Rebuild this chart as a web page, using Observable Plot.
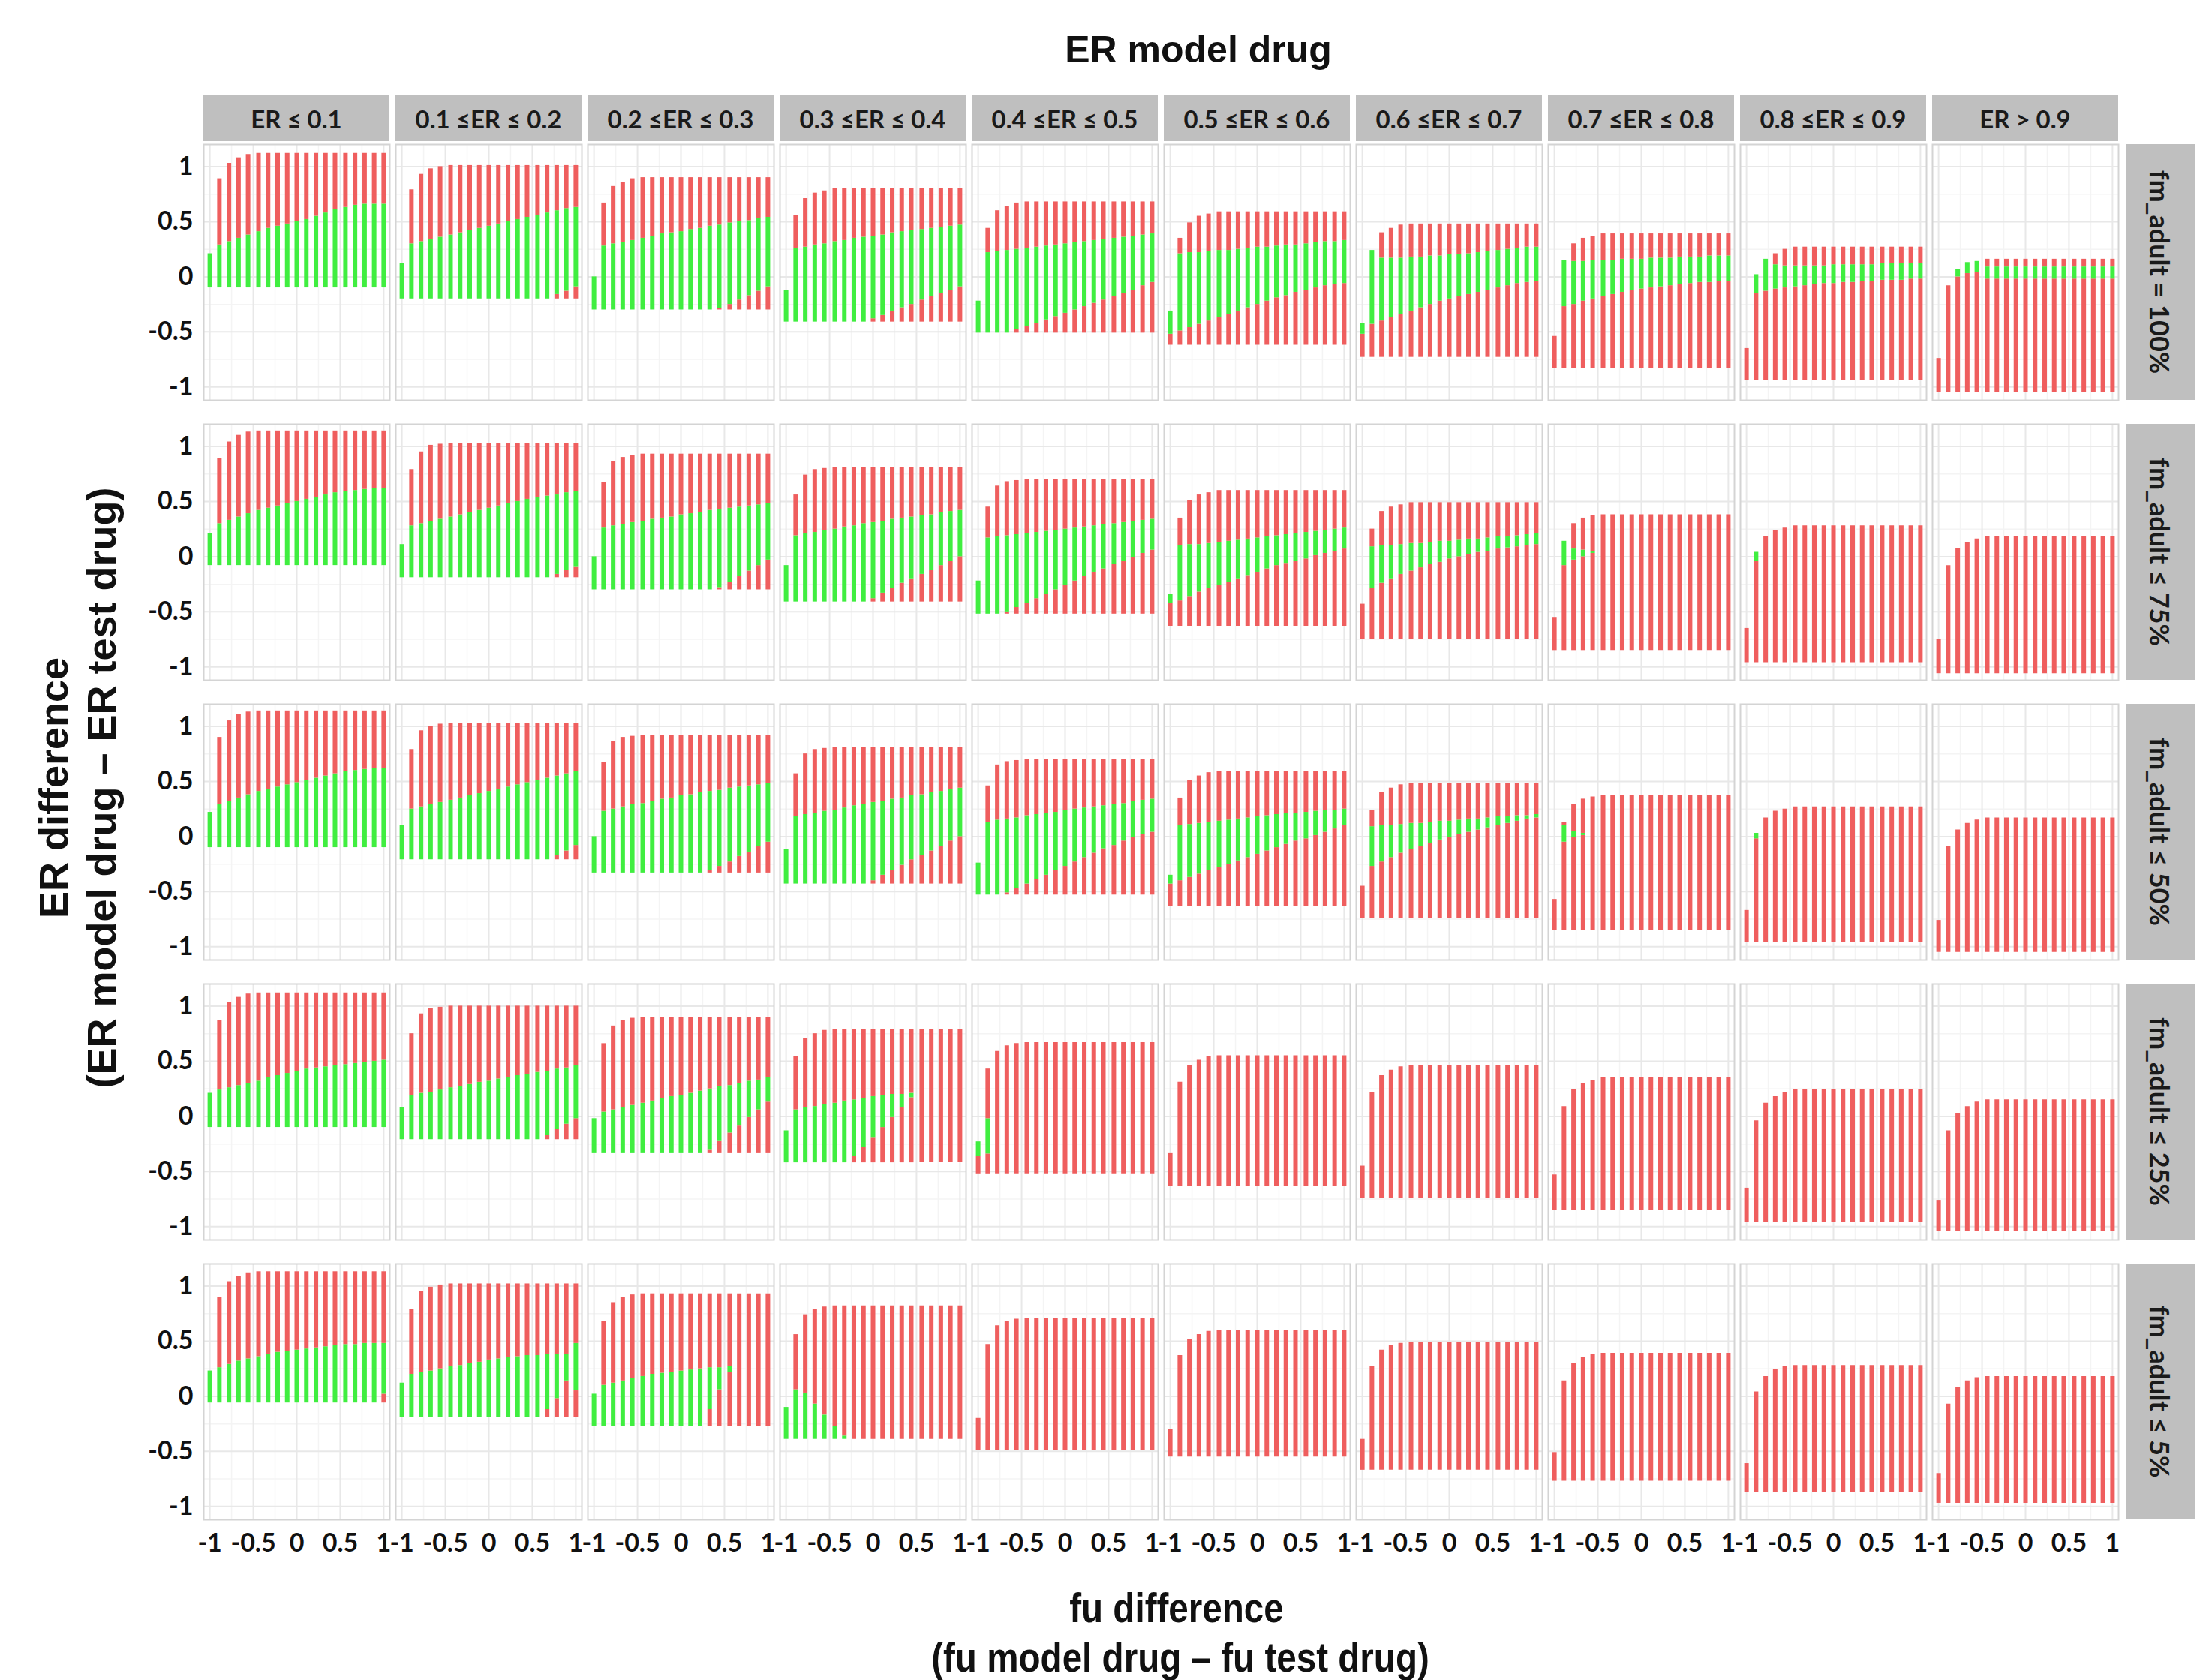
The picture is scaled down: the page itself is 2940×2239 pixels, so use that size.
<!DOCTYPE html>
<html><head><meta charset="utf-8">
<script src="https://cdn.jsdelivr.net/npm/d3@7"></script>
<script src="https://cdn.jsdelivr.net/npm/@observablehq/plot@0.6"></script>
<style>
html,body{margin:0;padding:0;background:#fff;}
#wrap{position:relative;width:2940px;height:2239px;overflow:hidden;background:#fff;}
.t{position:absolute;z-index:5;font-family:"Liberation Sans",Arial,sans-serif;font-weight:bold;color:#111;white-space:nowrap;line-height:1;}
#chart{position:absolute;left:0;top:100px;z-index:1;}
</style></head><body><div id="wrap">
<div id="chart"></div>
<div class="t" style="left:1597px;top:66px;font-size:50px;transform:translate(-50%,-50%)">ER model drug</div>
<div class="t" style="left:1568px;top:2143px;font-size:56px;transform:translate(-50%,-50%) scaleX(0.85)">fu difference</div>
<div class="t" style="left:1573px;top:2209px;font-size:56px;transform:translate(-50%,-50%) scaleX(0.85)">(fu model drug – fu test drug)</div>
<div class="t" style="left:71px;top:1050px;font-size:54px;transform:translate(-50%,-50%) rotate(-90deg)">ER difference</div>
<div class="t" style="left:135px;top:1050px;font-size:54px;transform:translate(-50%,-50%) rotate(-90deg)">(ER model drug – ER test drug)</div>
</div>
<script>
const erBins = ["ER ≤ 0.1","0.1 ≤ER ≤ 0.2","0.2 ≤ER ≤ 0.3","0.3 ≤ER ≤ 0.4","0.4 ≤ER ≤ 0.5","0.5 ≤ER ≤ 0.6","0.6 ≤ER ≤ 0.7","0.7 ≤ER ≤ 0.8","0.8 ≤ER ≤ 0.9","ER > 0.9"];
const fmBins = ["fm_adult = 100%","fm_adult ≤ 75%","fm_adult ≤ 50%","fm_adult ≤ 25%","fm_adult ≤ 5%"];
const fuDiff = [-1,-0.89,-0.78,-0.67,-0.56,-0.44,-0.33,-0.22,-0.11,0,0.11,0.22,0.33,0.44,0.56,0.67,0.78,0.89,1];
const axisTicks = [-1,-0.5,0,0.5,1];
const minorTicks = [-0.75,-0.25,0.25,0.75];
const n = null;

// ---- fm_adult = 100% ----
const top100 = [
[0.21,0.89,1.03,1.08,1.11,1.12,1.12,1.12,1.12,1.12,1.12,1.12,1.12,1.12,1.12,1.12,1.12,1.12,1.12],
[0.12,0.79,0.93,0.98,1.00,1.01,1.01,1.01,1.01,1.01,1.01,1.01,1.01,1.01,1.01,1.01,1.01,1.01,1.01],
[0.00,0.67,0.82,0.86,0.89,0.90,0.90,0.90,0.90,0.90,0.90,0.90,0.90,0.90,0.90,0.90,0.90,0.90,0.90],
[-0.12,0.56,0.71,0.76,0.78,0.80,0.80,0.80,0.80,0.80,0.80,0.80,0.80,0.80,0.80,0.80,0.80,0.80,0.80],
[-0.22,0.44,0.60,0.64,0.67,0.68,0.68,0.68,0.68,0.68,0.68,0.68,0.68,0.68,0.68,0.68,0.68,0.68,0.68],
[-0.31,0.35,0.49,0.55,0.57,0.59,0.59,0.59,0.59,0.59,0.59,0.59,0.59,0.59,0.59,0.59,0.59,0.59,0.59],
[-0.42,0.24,0.40,0.44,0.47,0.48,0.48,0.48,0.48,0.48,0.48,0.48,0.48,0.48,0.48,0.48,0.48,0.48,0.48],
[-0.54,0.15,0.30,0.35,0.37,0.39,0.39,0.39,0.39,0.39,0.39,0.39,0.39,0.39,0.39,0.39,0.39,0.39,0.39],
[-0.65,0.02,0.16,0.21,0.25,0.27,0.27,0.27,0.27,0.27,0.27,0.27,0.27,0.27,0.27,0.27,0.27,0.27,0.27],
[-0.74,-0.08,0.07,0.13,0.14,0.16,0.16,0.16,0.16,0.16,0.16,0.16,0.16,0.16,0.16,0.16,0.16,0.16,0.16]];
const bot100 = [-0.10,-0.20,-0.30,-0.41,-0.51,-0.62,-0.73,-0.83,-0.94,-1.05];
const ghi100 = [
[0.21,0.29,0.32,0.35,0.38,0.41,0.44,0.46,0.48,0.50,0.52,0.55,0.58,0.61,0.63,0.65,0.66,0.66,0.66],
[0.12,0.30,0.32,0.34,0.36,0.38,0.40,0.42,0.44,0.46,0.48,0.50,0.52,0.54,0.56,0.58,0.60,0.62,0.63],
[0.00,0.28,0.30,0.31,0.33,0.35,0.37,0.39,0.40,0.41,0.43,0.44,0.46,0.47,0.49,0.50,0.51,0.53,0.54],
[-0.12,0.26,0.27,0.29,0.30,0.32,0.33,0.35,0.36,0.37,0.38,0.40,0.41,0.42,0.43,0.44,0.45,0.46,0.47],
[-0.22,0.22,0.23,0.24,0.25,0.26,0.27,0.28,0.29,0.30,0.31,0.32,0.33,0.34,0.35,0.36,0.37,0.38,0.39],
[-0.31,0.21,0.22,0.22,0.23,0.24,0.24,0.25,0.26,0.27,0.27,0.28,0.29,0.29,0.30,0.31,0.32,0.32,0.33],
[-0.42,0.24,0.17,0.17,0.17,0.18,0.18,0.19,0.19,0.20,0.20,0.21,0.22,0.23,0.24,0.25,0.26,0.27,0.27],
[n,0.15,0.14,0.14,0.15,0.15,0.15,0.16,0.16,0.16,0.17,0.17,0.17,0.18,0.18,0.18,0.19,0.19,0.19],
[n,0.02,0.16,0.11,0.10,0.10,0.10,0.10,0.10,0.11,0.11,0.11,0.11,0.11,0.12,0.12,0.12,0.12,0.12],
[n,n,0.07,0.13,0.14,0.09,0.09,0.09,0.09,0.09,0.09,0.09,0.09,0.09,0.09,0.09,0.09,0.09,0.09]];
const glo100 = [
null,
[n,n,n,n,n,n,n,n,n,n,n,n,n,n,n,n,-0.16,-0.13,-0.09],
[n,n,n,n,n,n,n,n,n,n,n,n,n,-0.29,-0.25,-0.21,-0.17,-0.13,-0.09],
[n,n,n,n,n,n,n,n,n,-0.38,-0.35,-0.31,-0.28,-0.25,-0.21,-0.18,-0.15,-0.12,-0.09],
[n,n,n,n,-0.48,-0.45,-0.42,-0.39,-0.36,-0.33,-0.30,-0.27,-0.24,-0.21,-0.18,-0.15,-0.12,-0.08,-0.05],
[-0.52,-0.49,-0.46,-0.43,-0.40,-0.37,-0.34,-0.31,-0.28,-0.25,-0.22,-0.19,-0.17,-0.14,-0.12,-0.10,-0.08,-0.07,-0.06],
[-0.52,-0.43,-0.40,-0.37,-0.34,-0.31,-0.28,-0.25,-0.22,-0.20,-0.18,-0.16,-0.14,-0.12,-0.10,-0.08,-0.06,-0.05,-0.04],
[n,-0.27,-0.25,-0.22,-0.20,-0.18,-0.16,-0.14,-0.12,-0.11,-0.10,-0.09,-0.08,-0.07,-0.06,-0.05,-0.05,-0.04,-0.04],
[n,-0.15,-0.13,-0.11,-0.10,-0.09,-0.08,-0.07,-0.06,-0.06,-0.05,-0.05,-0.04,-0.04,-0.03,-0.03,-0.03,-0.02,-0.02],
[n,n,0.00,0.03,0.04,-0.02,-0.02,-0.02,-0.02,-0.02,-0.02,-0.02,-0.02,-0.02,-0.02,-0.02,-0.02,-0.02,-0.02]];

// ---- fm_adult ≤ 75% ----
const top75 = [
[0.21,0.89,1.04,1.10,1.13,1.14,1.14,1.14,1.14,1.14,1.14,1.14,1.14,1.14,1.14,1.14,1.14,1.14,1.14],
[0.11,0.79,0.95,1.01,1.02,1.03,1.03,1.03,1.03,1.03,1.03,1.03,1.03,1.03,1.03,1.03,1.03,1.03,1.03],
[0.00,0.67,0.86,0.90,0.92,0.93,0.93,0.93,0.93,0.93,0.93,0.93,0.93,0.93,0.93,0.93,0.93,0.93,0.93],
[-0.08,0.56,0.74,0.79,0.80,0.81,0.81,0.81,0.81,0.81,0.81,0.81,0.81,0.81,0.81,0.81,0.81,0.81,0.81],
[-0.22,0.45,0.64,0.68,0.69,0.70,0.70,0.70,0.70,0.70,0.70,0.70,0.70,0.70,0.70,0.70,0.70,0.70,0.70],
[-0.34,0.35,0.51,0.56,0.58,0.60,0.60,0.60,0.60,0.60,0.60,0.60,0.60,0.60,0.60,0.60,0.60,0.60,0.60],
[-0.43,0.25,0.41,0.45,0.47,0.49,0.49,0.49,0.49,0.49,0.49,0.49,0.49,0.49,0.49,0.49,0.49,0.49,0.49],
[-0.55,0.14,0.30,0.35,0.37,0.38,0.38,0.38,0.38,0.38,0.38,0.38,0.38,0.38,0.38,0.38,0.38,0.38,0.38],
[-0.65,0.04,0.18,0.24,0.26,0.28,0.28,0.28,0.28,0.28,0.28,0.28,0.28,0.28,0.28,0.28,0.28,0.28,0.28],
[-0.75,-0.08,0.07,0.13,0.16,0.18,0.18,0.18,0.18,0.18,0.18,0.18,0.18,0.18,0.18,0.18,0.18,0.18,0.18]];
const bot75 = [-0.08,-0.19,-0.30,-0.41,-0.52,-0.63,-0.75,-0.85,-0.96,-1.06];
const ghi75 = [
[0.21,0.30,0.33,0.36,0.39,0.42,0.44,0.46,0.48,0.50,0.52,0.54,0.56,0.58,0.59,0.60,0.61,0.62,0.62],
[0.11,0.28,0.30,0.32,0.34,0.36,0.38,0.40,0.42,0.44,0.46,0.48,0.50,0.52,0.54,0.55,0.56,0.58,0.59],
[0.00,0.26,0.28,0.29,0.31,0.32,0.34,0.35,0.36,0.38,0.39,0.40,0.42,0.43,0.44,0.45,0.46,0.47,0.48],
[-0.08,0.19,0.21,0.22,0.24,0.25,0.27,0.28,0.30,0.31,0.32,0.34,0.35,0.36,0.37,0.38,0.40,0.41,0.42],
[-0.22,0.17,0.18,0.19,0.20,0.21,0.22,0.23,0.24,0.25,0.26,0.27,0.28,0.29,0.30,0.31,0.32,0.33,0.34],
[-0.34,0.10,0.11,0.11,0.12,0.13,0.14,0.15,0.16,0.17,0.18,0.19,0.20,0.21,0.22,0.23,0.24,0.25,0.26],
[n,0.09,0.10,0.10,0.11,0.12,0.12,0.13,0.14,0.14,0.15,0.16,0.16,0.17,0.18,0.18,0.19,0.20,0.21],
[n,0.14,0.07,0.06,0.05,n,n,n,n,n,n,n,n,n,n,n,n,n,n],
[n,0.04,n,n,n,n,n,n,n,n,n,n,n,n,n,n,n,n,n],
null];
const glo75 = [
null,
[n,n,n,n,n,n,n,n,n,n,n,n,n,n,n,n,-0.16,-0.12,-0.09],
[n,n,n,n,n,n,n,n,n,n,n,n,n,-0.28,-0.23,-0.18,-0.13,-0.08,-0.03],
[n,n,n,n,n,n,n,n,n,-0.38,-0.33,-0.29,-0.24,-0.20,-0.16,-0.12,-0.08,-0.04,0.00],
[n,n,n,-0.50,-0.46,-0.42,-0.38,-0.34,-0.30,-0.26,-0.22,-0.18,-0.14,-0.11,-0.07,-0.04,-0.01,0.03,0.06],
[-0.42,-0.40,-0.36,-0.32,-0.29,-0.26,-0.23,-0.20,-0.17,-0.14,-0.11,-0.08,-0.06,-0.04,-0.02,0.01,0.03,0.05,0.07],
[n,-0.29,-0.24,-0.20,-0.16,-0.13,-0.10,-0.07,-0.05,-0.02,0.00,0.02,0.04,0.05,0.07,0.08,0.09,0.10,0.11],
[n,-0.08,-0.03,0.00,0.03,n,n,n,n,n,n,n,n,n,n,n,n,n,n],
[n,-0.04,n,n,n,n,n,n,n,n,n,n,n,n,n,n,n,n,n],
null];

// ---- fm_adult ≤ 50% ----
const top50 = [
[0.22,0.90,1.05,1.11,1.13,1.14,1.14,1.14,1.14,1.14,1.14,1.14,1.14,1.14,1.14,1.14,1.14,1.14,1.14],
[0.10,0.79,0.96,1.00,1.02,1.03,1.03,1.03,1.03,1.03,1.03,1.03,1.03,1.03,1.03,1.03,1.03,1.03,1.03],
[0.00,0.67,0.86,0.90,0.91,0.92,0.92,0.92,0.92,0.92,0.92,0.92,0.92,0.92,0.92,0.92,0.92,0.92,0.92],
[-0.12,0.57,0.75,0.79,0.80,0.81,0.81,0.81,0.81,0.81,0.81,0.81,0.81,0.81,0.81,0.81,0.81,0.81,0.81],
[-0.24,0.46,0.65,0.68,0.69,0.70,0.70,0.70,0.70,0.70,0.70,0.70,0.70,0.70,0.70,0.70,0.70,0.70,0.70],
[-0.35,0.35,0.51,0.55,0.58,0.59,0.59,0.59,0.59,0.59,0.59,0.59,0.59,0.59,0.59,0.59,0.59,0.59,0.59],
[-0.45,0.24,0.40,0.44,0.47,0.48,0.48,0.48,0.48,0.48,0.48,0.48,0.48,0.48,0.48,0.48,0.48,0.48,0.48],
[-0.57,0.13,0.29,0.34,0.36,0.37,0.37,0.37,0.37,0.37,0.37,0.37,0.37,0.37,0.37,0.37,0.37,0.37,0.37],
[-0.67,0.03,0.17,0.23,0.25,0.27,0.27,0.27,0.27,0.27,0.27,0.27,0.27,0.27,0.27,0.27,0.27,0.27,0.27],
[-0.76,-0.09,0.06,0.12,0.15,0.17,0.17,0.17,0.17,0.17,0.17,0.17,0.17,0.17,0.17,0.17,0.17,0.17,0.17]];
const bot50 = [-0.10,-0.21,-0.33,-0.43,-0.53,-0.63,-0.74,-0.85,-0.96,-1.05];
const ghi50 = [
[0.22,0.29,0.32,0.35,0.38,0.41,0.43,0.45,0.47,0.49,0.51,0.53,0.55,0.57,0.59,0.60,0.61,0.62,0.62],
[0.10,0.25,0.27,0.29,0.31,0.33,0.35,0.37,0.39,0.41,0.43,0.45,0.47,0.49,0.51,0.53,0.55,0.57,0.59],
[0.00,0.23,0.25,0.27,0.29,0.30,0.32,0.34,0.35,0.37,0.38,0.40,0.41,0.42,0.44,0.45,0.46,0.47,0.48],
[-0.12,0.18,0.20,0.21,0.23,0.24,0.26,0.28,0.29,0.31,0.32,0.34,0.35,0.37,0.38,0.40,0.41,0.43,0.44],
[-0.24,0.13,0.15,0.16,0.17,0.19,0.20,0.21,0.22,0.24,0.25,0.26,0.27,0.28,0.29,0.30,0.32,0.33,0.34],
[-0.35,0.10,0.11,0.12,0.13,0.14,0.15,0.16,0.17,0.18,0.19,0.20,0.21,0.21,0.22,0.23,0.24,0.24,0.25],
[n,0.09,0.10,0.10,0.11,0.12,0.12,0.13,0.14,0.14,0.15,0.16,0.16,0.17,0.18,0.18,0.19,0.19,0.20],
[n,0.10,0.05,0.03,n,n,n,n,n,n,n,n,n,n,n,n,n,n,n],
[n,0.03,n,n,n,n,n,n,n,n,n,n,n,n,n,n,n,n,n],
null];
const glo50 = [
null,
[n,n,n,n,n,n,n,n,n,n,n,n,n,n,n,n,-0.17,-0.13,-0.08],
[n,n,n,n,n,n,n,n,n,n,n,n,-0.31,-0.27,-0.23,-0.18,-0.14,-0.09,-0.05],
[n,n,n,n,n,n,n,n,n,-0.40,-0.35,-0.31,-0.26,-0.21,-0.17,-0.13,-0.09,-0.04,0.00],
[n,n,n,-0.51,-0.47,-0.43,-0.39,-0.35,-0.31,-0.27,-0.23,-0.19,-0.15,-0.11,-0.08,-0.04,-0.01,0.02,0.04],
[-0.43,-0.40,-0.37,-0.34,-0.31,-0.28,-0.25,-0.22,-0.19,-0.16,-0.13,-0.10,-0.07,-0.04,-0.02,0.01,0.04,0.07,0.10],
[n,-0.27,-0.23,-0.19,-0.15,-0.12,-0.09,-0.06,-0.03,-0.01,0.02,0.04,0.06,0.08,0.10,0.12,0.14,0.16,0.17],
[n,-0.05,-0.01,0.01,n,n,n,n,n,n,n,n,n,n,n,n,n,n,n],
[n,-0.02,n,n,n,n,n,n,n,n,n,n,n,n,n,n,n,n,n],
null];

// ---- fm_adult ≤ 25% ----
const top25 = [
[0.21,0.87,1.03,1.08,1.11,1.12,1.12,1.12,1.12,1.12,1.12,1.12,1.12,1.12,1.12,1.12,1.12,1.12,1.12],
[0.08,0.75,0.93,0.98,0.99,1.00,1.00,1.00,1.00,1.00,1.00,1.00,1.00,1.00,1.00,1.00,1.00,1.00,1.00],
[-0.02,0.66,0.82,0.87,0.89,0.90,0.90,0.90,0.90,0.90,0.90,0.90,0.90,0.90,0.90,0.90,0.90,0.90,0.90],
[-0.13,0.54,0.71,0.75,0.78,0.79,0.79,0.79,0.79,0.79,0.79,0.79,0.79,0.79,0.79,0.79,0.79,0.79,0.79],
[-0.23,0.43,0.59,0.64,0.66,0.67,0.67,0.67,0.67,0.67,0.67,0.67,0.67,0.67,0.67,0.67,0.67,0.67,0.67],
[-0.33,0.31,0.46,0.51,0.54,0.55,0.55,0.55,0.55,0.55,0.55,0.55,0.55,0.55,0.55,0.55,0.55,0.55,0.55],
[-0.45,0.22,0.37,0.42,0.45,0.46,0.46,0.46,0.46,0.46,0.46,0.46,0.46,0.46,0.46,0.46,0.46,0.46,0.46],
[-0.53,0.09,0.24,0.30,0.33,0.35,0.35,0.35,0.35,0.35,0.35,0.35,0.35,0.35,0.35,0.35,0.35,0.35,0.35],
[-0.65,-0.04,0.12,0.18,0.22,0.24,0.24,0.24,0.24,0.24,0.24,0.24,0.24,0.24,0.24,0.24,0.24,0.24,0.24],
[-0.76,-0.13,0.03,0.09,0.13,0.15,0.15,0.15,0.15,0.15,0.15,0.15,0.15,0.15,0.15,0.15,0.15,0.15,0.15]];
const bot25 = [-0.10,-0.21,-0.33,-0.42,-0.52,-0.63,-0.74,-0.85,-0.96,-1.04];
const ghi25 = [
[0.21,0.24,0.26,0.28,0.30,0.32,0.35,0.37,0.39,0.41,0.43,0.44,0.45,0.46,0.47,0.48,0.49,0.50,0.51],
[0.08,0.19,0.21,0.22,0.24,0.26,0.27,0.29,0.31,0.32,0.34,0.35,0.37,0.38,0.40,0.41,0.43,0.44,0.46],
[-0.02,0.04,0.06,0.08,0.10,0.12,0.14,0.16,0.18,0.19,0.21,0.23,0.25,0.27,0.28,0.30,0.32,0.33,0.35],
[-0.13,0.06,0.08,0.09,0.11,0.12,0.14,0.15,0.16,0.18,0.19,0.20,0.20,0.21,n,n,n,n,n],
[-0.23,-0.02,n,n,n,n,n,n,n,n,n,n,n,n,n,n,n,n,n],
null,null,null,null,null];
const glo25 = [
null,
[n,n,n,n,n,n,n,n,n,n,n,n,n,n,n,-0.17,-0.12,-0.07,-0.02],
[n,n,n,n,n,n,n,n,n,n,n,n,-0.30,-0.22,-0.15,-0.08,-0.01,0.06,0.13],
[n,n,n,n,n,n,n,-0.36,-0.28,-0.19,-0.10,-0.01,0.08,0.17,n,n,n,n,n],
[-0.36,-0.34,n,n,n,n,n,n,n,n,n,n,n,n,n,n,n,n,n],
null,null,null,null,null];

// ---- fm_adult ≤ 5% ----
const top5 = [
[0.23,0.90,1.04,1.09,1.12,1.13,1.13,1.13,1.13,1.13,1.13,1.13,1.13,1.13,1.13,1.13,1.13,1.13,1.13],
[0.12,0.79,0.95,0.99,1.01,1.02,1.02,1.02,1.02,1.02,1.02,1.02,1.02,1.02,1.02,1.02,1.02,1.02,1.02],
[0.02,0.68,0.85,0.90,0.92,0.93,0.93,0.93,0.93,0.93,0.93,0.93,0.93,0.93,0.93,0.93,0.93,0.93,0.93],
[-0.10,0.56,0.74,0.79,0.81,0.82,0.82,0.82,0.82,0.82,0.82,0.82,0.82,0.82,0.82,0.82,0.82,0.82,0.82],
[-0.20,0.47,0.64,0.68,0.70,0.71,0.71,0.71,0.71,0.71,0.71,0.71,0.71,0.71,0.71,0.71,0.71,0.71,0.71],
[-0.30,0.37,0.52,0.56,0.59,0.60,0.60,0.60,0.60,0.60,0.60,0.60,0.60,0.60,0.60,0.60,0.60,0.60,0.60],
[-0.39,0.27,0.42,0.46,0.48,0.49,0.49,0.49,0.49,0.49,0.49,0.49,0.49,0.49,0.49,0.49,0.49,0.49,0.49],
[-0.51,0.14,0.30,0.35,0.38,0.39,0.39,0.39,0.39,0.39,0.39,0.39,0.39,0.39,0.39,0.39,0.39,0.39,0.39],
[-0.61,0.04,0.18,0.24,0.27,0.28,0.28,0.28,0.28,0.28,0.28,0.28,0.28,0.28,0.28,0.28,0.28,0.28,0.28],
[-0.70,-0.07,0.08,0.14,0.17,0.18,0.18,0.18,0.18,0.18,0.18,0.18,0.18,0.18,0.18,0.18,0.18,0.18,0.18]];
const bot5 = [-0.06,-0.19,-0.27,-0.39,-0.49,-0.55,-0.67,-0.77,-0.87,-0.97];
const ghi5 = [
[0.23,0.26,0.29,0.32,0.34,0.36,0.38,0.40,0.41,0.42,0.43,0.44,0.45,0.46,0.47,0.47,0.48,0.48,0.48],
[0.12,0.20,0.22,0.23,0.25,0.27,0.28,0.30,0.31,0.33,0.34,0.35,0.36,0.37,0.37,0.38,0.38,0.38,0.48],
[0.02,0.10,0.12,0.14,0.16,0.18,0.20,0.21,0.22,0.23,0.24,0.25,0.26,0.26,0.27,n,n,n,n],
[-0.10,0.06,0.03,-0.07,-0.17,-0.27,-0.36,n,n,n,n,n,n,n,n,n,n,n,n],
null,null,null,null,null,null];
const glo5 = [
[n,n,n,n,n,n,n,n,n,n,n,n,n,n,n,n,n,n,0.02],
[n,n,n,n,n,n,n,n,n,n,n,n,n,n,n,-0.12,-0.02,0.14,0.05],
[n,n,n,n,n,n,n,n,n,n,n,n,-0.12,0.06,0.22,n,n,n,n],
null,null,null,null,null,null,null];

const RED = "#EF5E5E", GREEN = "#40EE40";

// table of bar segments built from the arrays above
const rowsData = [[top100,bot100,ghi100,glo100],[top75,bot75,ghi75,glo75],[top50,bot50,ghi50,glo50],[top25,bot25,ghi25,glo25],[top5,bot5,ghi5,glo5]];
const segs = [];
rowsData.forEach(([top, bot, ghi, glo], r) => {
  erBins.forEach((er, c) => {
    fuDiff.forEach((fu, i) => {
      const t = top[c][i], b = bot[c];
      const gh = ghi[c] ? ghi[c][i] : null;
      const push = (y1, y2, k) => { if (y2 > y1) segs.push({fm: fmBins[r], er, fu, y1, y2, k}); };
      if (gh == null) push(b, t, "not");
      else {
        const gl = (glo[c] && glo[c][i] != null) ? glo[c][i] : b;
        const hi = Math.min(gh, t);
        push(b, gl, "not"); push(gl, hi, "ok"); push(hi, t, "not");
      }
    });
  });
});

const W = 2940, H = 2000, MT = 91, MR = 114, MB = 75, ML = 268;
const plot = Plot.plot({
  width: W, height: H,
  marginLeft: ML, marginRight: MR, marginTop: MT, marginBottom: MB,
  style: {fontFamily: "Lato, sans-serif", fontSize: "34px", fontWeight: "bold", color: "#111", background: "transparent"},
  fx: {domain: erBins, paddingInner: 0.03, paddingOuter: 0, axis: null, label: null},
  fy: {domain: fmBins, paddingInner: 0.086, paddingOuter: 0, axis: null, label: null},
  x: {domain: [-1.07, 1.07], ticks: axisTicks, tickFormat: d => String(d), tickSize: 0, tickPadding: 18, label: null},
  y: {domain: [-1.12, 1.2], ticks: axisTicks, tickFormat: d => String(d), tickSize: 0, tickPadding: 14, label: null},
  color: {domain: ["not", "ok"], range: [RED, GREEN]},
  marks: [
    Plot.ruleX(minorTicks, {stroke: "#f4f4f4", strokeWidth: 1.5}),
    Plot.ruleY(minorTicks, {stroke: "#f4f4f4", strokeWidth: 1.5}),
    Plot.ruleX(axisTicks, {stroke: "#e8e8e8", strokeWidth: 2}),
    Plot.ruleY(axisTicks, {stroke: "#e8e8e8", strokeWidth: 2}),
    Plot.frame({stroke: "#d4d4d4", strokeWidth: 2}),
    Plot.ruleX(segs, {x: "fu", y1: "y1", y2: "y2", stroke: "k", strokeWidth: 6, fx: "er", fy: "fm"})
  ]
});
document.getElementById("chart").appendChild(plot);

// facet strips (gray label boxes) placed from Plot's own fx / fy scales
function bandOf(s) {
  if (s.apply) return v => s.apply(v);
  const b = d3.scaleBand(s.domain, s.range).paddingInner(s.paddingInner ?? 0).paddingOuter(s.paddingOuter ?? 0).align(s.align ?? 0.5);
  return v => b(v);
}
const fxS = plot.scale("fx"), fyS = plot.scale("fy");
const fxPos = bandOf(fxS), fyPos = bandOf(fyS);
const svg = d3.select(plot);
const g = svg.append("g").attr("class", "strips");
erBins.forEach(er => {
  const x0 = fxPos(er), bw = fxS.bandwidth;
  g.append("rect").attr("x", x0).attr("y", MT - 64).attr("width", bw).attr("height", 61).attr("fill", "#bfbfbf");
  g.append("text").attr("x", x0 + bw / 2).attr("y", MT - 33.5).attr("text-anchor", "middle").attr("dominant-baseline", "central")
    .attr("font-family", "Lato, sans-serif").attr("font-weight", "bold").attr("font-size", 33).attr("fill", "#1a1a1a").text(er);
});
fmBins.forEach(fm => {
  const y0 = fyPos(fm), bh = fyS.bandwidth, x0 = W - MR + 7;
  g.append("rect").attr("x", x0).attr("y", y0).attr("width", 92).attr("height", bh).attr("fill", "#bfbfbf");
  g.append("text").attr("transform", `translate(${x0 + 46},${y0 + bh / 2}) rotate(90)`).attr("text-anchor", "middle").attr("dominant-baseline", "central")
    .attr("font-family", "Lato, sans-serif").attr("font-weight", "bold").attr("font-size", 36).attr("fill", "#1a1a1a").text(fm);
});
</script>
</body></html>
